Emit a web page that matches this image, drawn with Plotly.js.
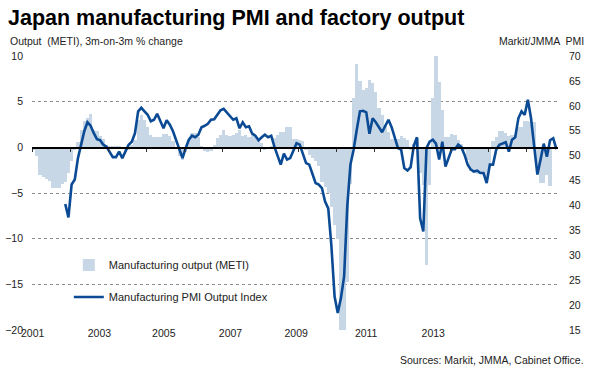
<!DOCTYPE html>
<html>
<head>
<meta charset="utf-8">
<script src="https://cdn.plot.ly/plotly-3.0.1.min.js"></script>
<style>html,body{margin:0;padding:0;background:#fff}#chart{width:590px;height:372px}</style>
</head>
<body>
<div id="chart"></div>
<script>
// ---- data ----
const outputStart = [2001, 1];   // first month of METI series (year, month)
const pmiStart = [2001, 11];     // first month of PMI series
// Manufacturing output (METI), 3m-on-3m % change, monthly
const outputChange = [
 -0.3,-1.0,-3.0,-3.2,-3.5,-3.7,-4.5,-4.5,-4.5,-4.0,-3.8,-2.8,
 -1.5,-0.3,0.6,1.9,2.9,3.2,3.7,1.9,1.8,1.2,0.9,0.3,
 0.1,0.2,0.2,0.1,-0.1,-0.3,-0.3,0.3,0.8,3.0,3.5,3.0,
 2.2,1.3,1.1,1.1,1.1,1.5,1.5,1.2,0.7,-0.2,-1.0,-1.4,
 -0.5,0.8,1.6,1.6,1.1,0.2,-0.4,-0.5,-0.4,0.3,1.0,1.3,
 1.9,1.3,1.2,1.3,1.6,1.9,1.2,1.4,1.1,1.3,1.2,0.8,
 0.5,-0.3,-0.2,0.2,1.0,1.4,1.7,1.7,2.2,2.2,0.9,0.9,
 0.8,0.7,-0.3,-0.8,-1.2,-1.5,-2.0,-3.8,-4.3,-5.0,-6.5,-8.5,
 -10.0,-21.0,-21.0,-14.7,-4.0,5.4,9.1,7.3,6.3,6.5,7.4,7.0,
 6.1,4.3,3.5,2.4,1.7,0.9,0.9,0.9,1.2,1.0,0.8,-0.3,
 0.4,1.0,-2.8,-4.1,-12.9,-4.1,5.4,10.5,7.2,4.1,1.1,1.1,
 1.5,1.3,0.8,0.4,-0.3,-1.4,-2.6,-2.8,-2.9,-2.9,-2.8,-3.2,
 -2.1,0.7,1.1,1.8,1.8,1.6,1.2,1.35,1.35,2.2,2.2,2.9,
 2.9,2.8,2.8,-1.9,-3.9,-3.9,-3.0,-4.2
];
// Markit/JMMA Manufacturing PMI Output Index, monthly
const pmiOutput = [
 40.3,37.6,
 44.2,45.2,49.5,52.2,54.9,56.7,56.0,54.5,53.3,53.1,52.2,51.8,
 50.8,49.7,49.7,50.8,49.5,51.0,52.2,52.8,54.5,58.9,59.6,58.9,
 58.2,56.9,57.2,58.4,56.9,55.5,57.1,56.2,54.9,53.2,51.2,49.5,
 51.5,53.2,54.0,53.7,54.2,55.7,56.0,56.4,57.2,57.3,58.2,59.1,
 59.4,58.7,57.9,57.2,57.5,55.5,56.7,55.7,55.9,54.4,54.0,53.1,
 53.7,54.2,53.7,54.0,51.8,49.8,48.2,50.4,49.2,49.5,51.2,52.5,
 52.2,50.5,48.5,48.2,46.5,44.5,44.2,43.5,40.8,39.4,31.8,21.7,
 18.4,21.4,25.7,39.8,48.2,51.2,55.2,58.9,59.0,58.7,54.4,57.5,
 56.7,55.7,54.7,56.0,57.2,55.7,53.7,51.5,51.2,47.5,47.0,47.7,
 52.0,53.7,37.4,34.8,51.5,52.8,53.2,52.4,49.2,52.8,47.8,49.5,
 51.3,51.3,52.2,51.7,50.2,48.2,47.2,46.8,47.0,46.5,46.5,44.5,
 48.2,48.2,51.2,52.2,52.5,52.7,50.8,53.2,53.7,57.5,58.9,58.2,
 61.2,57.5,51.8,46.2,49.2,52.4,49.8,53.1,53.5,51.3
];
const yearTicks = [2001,2002,2003,2004,2005,2006,2007,2008,2009,2010,2011,2012,2013,2014];
const yearLabels = ['2001','2003','2005','2007','2009','2011','2013'];
const leftTicks = [-20,-15,-10,-5,0,5,10];
const rightTicks = [15,20,25,30,35,40,45,50,55,60,65,70];

// ---- layout config ----
const labelPos = [2001.018,2002.774,2004.466,2006.221,2007.947,2009.789,2011.553];
const xRange = [2001, 2014.834];

function monthX(start, i){ return start[0] + (start[1]-1 + i + 0.5)/12; }
const xOut = outputChange.map((_, i) => monthX(outputStart, i));
const xPmi = pmiOutput.map((_, i) => monthX(pmiStart, i));

const FONT = 'Liberation Sans, Arial, sans-serif';
const TXT = '#222';

const traces = [
  {type:'bar', x:xOut, y:outputChange, width:1/12, name:'Manufacturing output (METI)',
   marker:{color:'#c8d7e5', line:{width:0}}, legendgroup:'a', hoverinfo:'skip'},
  {type:'scatter', mode:'lines', x:xPmi, y:pmiOutput, yaxis:'y2', name:'Manufacturing PMI Output Index',
   line:{color:'#0b4a94', width:2.6}, legendgroup:'b', hoverinfo:'skip'},
  {type:'scatter', mode:'none', x:yearTicks, y:yearTicks.map(()=>0), xaxis:'x2', showlegend:false, hoverinfo:'skip'}
];

const layout = {
  width:590, height:372,
  margin:{l:32, r:32, t:56, b:42, pad:0},
  paper_bgcolor:'#fff', plot_bgcolor:'#fff',
  font:{family:FONT, size:10.5, color:TXT},
  showlegend:true,
  bargap:0,
  title:{text:'<b>Japan manufacturing PMI and factory output</b>', font:{family:FONT, size:21.5, color:'#000'},
         xref:'container', yref:'container', x:8/590, xanchor:'left', y:1-17/372, yanchor:'middle'},
  xaxis:{range:xRange, showgrid:false, zeroline:false, showline:false, ticks:'',
         tickmode:'array', tickvals:labelPos, ticktext:yearLabels, tickfont:{size:10.5, color:TXT},
         ticklabelstandoff:-5},
  xaxis2:{overlaying:'x', range:xRange, anchor:'free', position:2/3, side:'bottom',
          showline:true, linecolor:'#000', linewidth:1.5, ticks:'outside', ticklen:3, tickwidth:1, tickcolor:'#333',
          tickmode:'array', tickvals:yearTicks, showticklabels:false, showgrid:false, zeroline:false},
  yaxis:{range:[-20,10], tickmode:'array', tickvals:leftTicks, showgrid:true, gridcolor:'#8c8c8c', griddash:'dot',
         gridwidth:1, zeroline:true, zerolinecolor:'#000', zerolinewidth:1.5, showline:false, ticks:'',
         tickfont:{size:10.5, color:TXT}, ticklabelstandoff:8},
  yaxis2:{range:[15,70], overlaying:'y', side:'right', tickmode:'array', tickvals:rightTicks, showgrid:false,
          zeroline:false, showline:false, ticks:'', tickfont:{size:10.5, color:TXT}, ticklabelstandoff:10},
  legend:{x:0.07, y:0.29, xanchor:'left', yanchor:'top', bgcolor:'rgba(0,0,0,0)', font:{size:11, color:TXT},
          tracegroupgap:13, traceorder:'grouped'},
  annotations:[
    {text:'Output  (METI), 3m-on-3m % change', xref:'paper', yref:'paper', x:(8-32)/526, y:(330-41)/274,
     xanchor:'left', yanchor:'middle', showarrow:false, font:{size:10.5, color:TXT}},
    {text:'Markit/JMMA  PMI', xref:'paper', yref:'paper', x:(586-32)/526, y:(330-41)/274,
     xanchor:'right', yanchor:'middle', showarrow:false, font:{size:10.5, color:TXT}},
    {text:'Sources: Markit, JMMA, Cabinet Office.', xref:'paper', yref:'paper', x:(586-32)/526, y:(330-360)/274,
     xanchor:'right', yanchor:'middle', showarrow:false, font:{size:10.5, color:TXT}}
  ]
};

Plotly.newPlot('chart', traces, layout, {staticPlot:true, displayModeBar:false});
</script>
</body>
</html>
